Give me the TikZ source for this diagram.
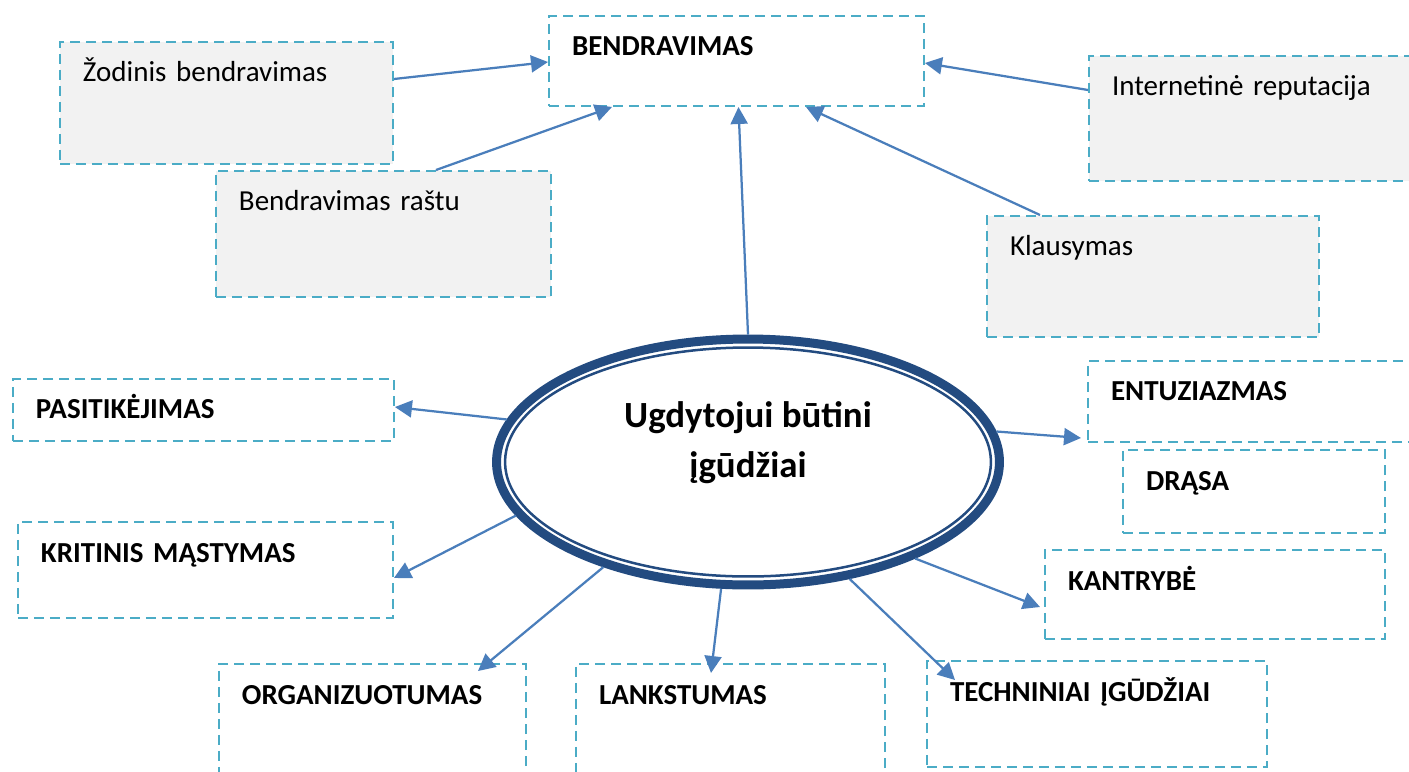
\documentclass[tikz,border=0pt]{standalone}
\usepackage{fontspec}
\setmainfont{Carlito}
\usetikzlibrary{arrows.meta,calc,positioning,shapes.geometric}
\definecolor{dashblue}{RGB}{75,172,198}
\definecolor{notegray}{RGB}{242,242,242}
\definecolor{linkblue}{RGB}{74,126,187}
\definecolor{hubblue}{RGB}{35,75,128}
\tikzset{
  link/.style={-{Triangle[length=0.34cm,width=0.34cm]}, draw, linkblue, line width=0.045cm},
}

\begin{document}
\begin{tikzpicture}[x=0.02cm,y=-0.02cm,
            skill/.style={rectangle,draw=dashblue,line width=0.04cm,dash pattern=on 0.2cm off 0.12cm,anchor=north west,align=left,inner xsep=0.46cm,inner ysep=0.4cm,text height=0.4cm,font=\fontsize{16.5}{19}\selectfont\bfseries},
            note/.style={skill,fill=notegray,font=\fontsize{16.5}{19}\selectfont},
            hub/.style={ellipse,draw=hubblue,line width=0.18cm,fill=white,inner sep=0pt,align=center,font=\fontsize{21}{28.5}\selectfont\bfseries}]
            \useasboundingbox (0,0) rectangle (1409,771);
            \clip (0,0) rectangle (1409,771);

            \node[note, text width=5.74cm, text depth=1.24cm] (zod) at (59,41) {Žodinis bendravimas};
            \node[skill, text width=6.58cm, text depth=0.6cm] (bend) at (548,15) {BENDRAVIMAS};
            \node[note, text width=5.72cm, text depth=1.3cm] (inet) at (1088,55) {Internetinė reputacija};
            \node[note, text width=5.78cm, text depth=1.32cm] (rast) at (215,170) {Bendravimas raštu};
            \node[note, text width=5.72cm, text depth=1.22cm] (klaus) at (986,215) {Klausymas};

            \node[skill, text width=6.7cm, text depth=0.04cm] (pasit) at (12,378) {PASITIKĖJIMAS};
            \node[skill, text width=5.74cm, text depth=0.42cm] (entuz) at (1087,360) {ENTUZIAZMAS};
            \node[skill, text width=4.32cm, text depth=0.46cm] (drasa) at (1122,449) {DRĄSA};
            \node[skill, text width=6.58cm, text depth=0.72cm] (krit) at (17,521) {KRITINIS MĄSTYMAS};
            \node[skill, text width=5.88cm, text depth=0.58cm] (kant) at (1044,549) {KANTRYBĖ};
            \node[skill, text width=5.22cm, text depth=1.1cm] (org) at (218,663) {ORGANIZUOTUMAS};
            \node[skill, text width=5.26cm, text depth=1.1cm] (lank) at (575,663) {LANKSTUMAS};
            \node[skill, text width=5.88cm, text depth=0.92cm] (tech) at (926,660) {TECHNINIAI ĮGŪDŽIAI};

            \node[hub, minimum width=10.06cm, minimum height=4.92cm, text depth=0.9cm] (core) at (748,462) {Ugdytojui būtini\\įgūdžiai};
            \draw[hubblue, line width=0.05cm] (core.center) ellipse [x radius=4.86cm, y radius=2.29cm];

            \draw [link] ($(zod.north east)+(0,38)$) to ($(bend.north west)+(0,47)$);
            \draw [link] ($(rast.north west)+(221,0)$) to ($(bend.south west)+(64,0)$);
            \draw [link] (core.north) to ($(bend.south)+(2,0)$);
            \draw [link] ($(klaus.north west)+(54,0)$) to ($(bend.south west)+(258,0)$);
            \draw [link] ($(inet.north west)+(0,35)$) to ($(bend.north east)+(0,48)$);

            \draw [link] (core.170) to ($(pasit.north east)+(0,29)$);
            \draw [link] (core.193) to ($(krit.north east)+(0,57)$);
            \draw [link] (core.216) to ($(org.north west)+(260,8)$);
            \draw [link] (core.258) to ($(lank.north west)+(136,10)$);
            \draw [link] (core.311) to ($(tech.north west)+(29,20)$);
            \draw [link] (core.330) to ($(kant.north west)+(-4,58)$);
            \draw [link] (core.7) to ($(entuz.south west)+(-6,-5)$);
\end{tikzpicture}
\end{document}
